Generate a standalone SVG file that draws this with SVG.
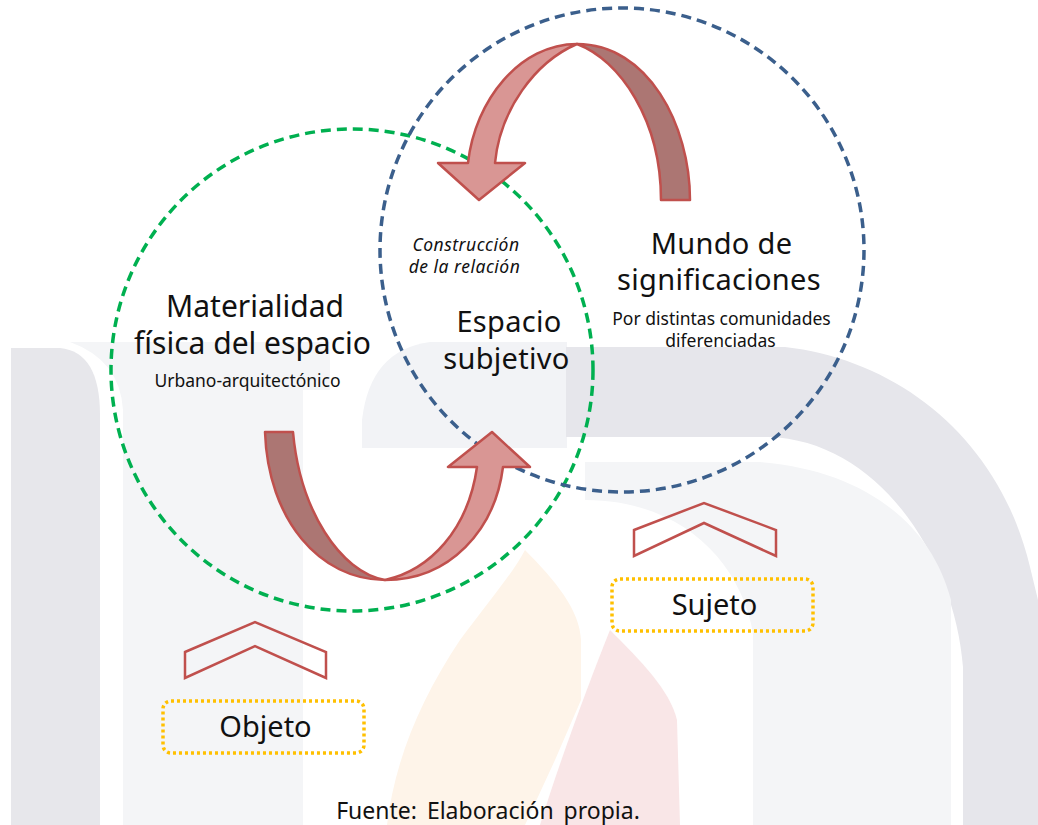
<svg xmlns="http://www.w3.org/2000/svg" width="1038" height="825" viewBox="0 0 1038 825">
<style>
.t{font-family:"Noto Sans","Open Sans","DejaVu Sans",sans-serif;fill:#111;text-anchor:middle}
.big{font-size:30px}
.big2{font-size:29px;letter-spacing:0.3px}
.small{font-size:17.5px}
.it{font-size:17.5px;font-style:italic;letter-spacing:0.5px}
.lab{font-size:29px}
.circ{fill:none;stroke-width:3.5;stroke-dasharray:10 6}
.chev{fill:none;stroke:#c0504d;stroke-width:2.5;stroke-linejoin:miter}
.box{fill:none;stroke:#ffc000;stroke-width:3.5;stroke-dasharray:3 3}
.light{fill:#d99694;stroke:#c0504d;stroke-width:2.5;stroke-linejoin:round}
.dark{fill:#ac7673;stroke:#c0504d;stroke-width:2.5;stroke-linejoin:round}
</style>
<rect width="1038" height="825" fill="#ffffff"/>
<g id="watermark">
  <path d="M11,348 L60,348 Q100,352 100,415 L100,825 L11,825 Z" fill="#e7e7eb"/>
  <path d="M70,342 L330,342 L330,390 L303,390 L303,825 L123,825 L123,410 Q120,360 70,342 Z" fill="#f4f5f7"/>
  <path d="M362,448 L362,420 Q370,350 430,342 L567,342 L567,448 Z" fill="#f2f3f6"/>
  <path d="M566,347 L785,347 C900,360 1000,440 1030,567 L1038,600 L1038,825 L963,825 L963,667 C955,560 880,440 768,437 L566,437 Z" fill="#e6e6eb"/>
  <path d="M585,462 L760,462 C860,470 930,520 951,600 L951,825 L753,825 L753,633 C740,560 680,500 585,500 Z" fill="#f4f5f7"/>
  <path d="M387,825 C395,760 420,700 460,640 C490,600 515,570 525,550 C555,580 580,610 581,640 L581,700 L555,760 L525,825 Z" fill="#fef4e9"/>
  <path d="M540,825 C560,760 590,680 610,630 C640,660 670,690 677,720 L680,825 Z" fill="#f9e6e7"/>
</g>
<g id="circles">
  <circle id="green-circle" class="circ" cx="352" cy="370" r="241" stroke="#00b050"/>
  <circle id="blue-circle" class="circ" cx="622" cy="250" r="242" stroke="#3b5f8c"/>
</g>
<g id="connectors">
  <g id="top-arrow">
    <path class="dark" d="M690,200 C690,125 648,44 577,44 C620,60 661,120 661,200 Z"/>
    <path class="light" d="M577,44 C520,44 475,100 468,163 L438,163 L479,200 L525,163 L495,163 C500,110 535,62 577,44 Z"/>
  </g>
  <g id="bottom-arrow">
    <path class="dark" d="M265,432 L293,432 C300,510 340,572 385,580 C320,580 268,520 265,432 Z"/>
    <path class="light" d="M385,580 C450,580 495,530 503,467 L530,467 L492,432 L448,467 L477,467 C468,530 430,570 385,580 Z"/>
  </g>
  <polygon id="chevron-objeto" class="chev" points="185,652 255,622 326,652 326,678 255,646 185,678"/>
  <polygon id="chevron-sujeto" class="chev" points="634,530 704,503 776,530 776,556 704,523 634,556"/>
</g>
<g id="node-materialidad">
  <text class="t big" x="255" y="317">Materialidad</text>
  <text class="t big" x="252.5" y="354">física del espacio</text>
  <text class="t small" x="247.5" y="387">Urbano-arquitectónico</text>
</g>
<g id="node-espacio">
  <text class="t it" x="466" y="251">Construcción</text>
  <text class="t it" x="464.5" y="273">de la relación</text>
  <text class="t big2" x="509" y="332">Espacio</text>
  <text class="t big2" x="506.5" y="369">subjetivo</text>
</g>
<g id="node-mundo">
  <text class="t big2" x="721.5" y="254">Mundo de</text>
  <text class="t big2" x="719" y="290">significaciones</text>
  <text class="t small" x="721.5" y="325">Por distintas comunidades</text>
  <text class="t small" x="720.5" y="347">diferenciadas</text>
</g>
<g id="node-objeto">
  <rect class="box" x="163" y="701" width="201" height="52" rx="8"/>
  <text class="t lab" x="265.5" y="737">Objeto</text>
</g>
<g id="node-sujeto">
  <rect class="box" x="612" y="579" width="201" height="52" rx="8"/>
  <text class="t lab" x="714.5" y="615">Sujeto</text>
</g>
<text id="caption" class="t" style="font-size:23px;word-spacing:4px" x="488" y="819">Fuente: Elaboración propia.</text>
</svg>
